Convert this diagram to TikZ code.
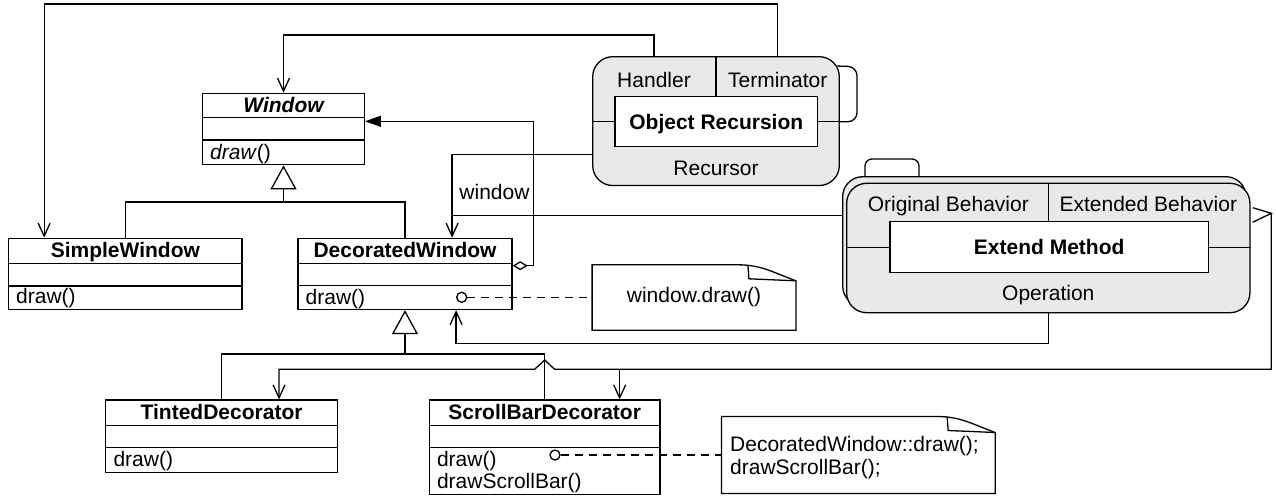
\documentclass[tikz,border=0pt]{standalone}
\usepackage{fontspec}
\setmainfont{Liberation Sans}
\usetikzlibrary{arrows.meta,calc}
\definecolor{boxgray}{RGB}{233,233,233}
\newcommand\notedraw[1]{%
  \draw[ln] (#1.south west) |- ($(#1.north east)+(-58,0)$) to[out=0,in=160] ($(#1.north east)+(0,16)$) -- (#1.south east) -- cycle;
  \draw[ln] ($(#1.north east)+(-48,0)$) -- ($(#1.north east)+(-47,14)$) -- ($(#1.north east)+(0,16)$);}
\begin{document}
\begin{tikzpicture}[x=1pt,y=-1pt,
  every node/.style={font=\fontsize{21}{24}\selectfont, inner sep=0pt},
  ln/.style={line width=1.3pt},
  cls/.style={draw, line width=1.3pt, fill=white},
  rbox/.style={draw, line width=1.3pt, fill=boxgray, rounded corners=20pt},
  ibox/.style={draw, line width=1.3pt, fill=white, text height=15pt, text depth=0pt, font=\fontsize{21}{24}\selectfont\bfseries},
  txt/.style={anchor=base},
  bold/.style={anchor=base, font=\fontsize{21}{24}\selectfont\bfseries},
  op/.style={anchor=base west},
  nav/.style={ln, -{Straight Barb[length=13pt,width=12pt]}},
  inh/.style={ln, -{Triangle[open,length=24pt,width=26pt]}},
  dsh/.style={ln, dash pattern=on 8pt off 6pt},
  lolly/.style={circle, draw, line width=1.3pt, fill=white, minimum size=10pt}
]
\useasboundingbox (0,0) rectangle (1276,496);

% ---------- classes ----------
\node[cls, minimum width=161.6pt, minimum height=71.4pt] (win) at (283.5,129) {};
\draw[ln] (win.west |- 0,117.7) -- (win.east |- 0,117.7);
\draw[ln] (win.west |- 0,140) -- (win.east |- 0,140);
\node[anchor=base, font=\fontsize{21}{24}\selectfont\bfseries\itshape] (winn) at (283.5,112) {Window};
\node[op] (wino) at (210,159) {\textit{draw}()};

\node[cls, minimum width=233.5pt, minimum height=71.2pt] (sw) at (125.35,273.9) {};
\draw[ln] (sw.west |- 0,263.5) -- (sw.east |- 0,263.5);
\draw[ln] (sw.west |- 0,286) -- (sw.east |- 0,286);
\node[bold] (swn) at (125.35,257.5) {SimpleWindow};
\node[op] (swo) at (16,303.5) {draw()};

\node[cls, minimum width=214.1pt, minimum height=71.2pt] (dw) at (405,273.9) {};
\draw[ln] (dw.west |- 0,263.8) -- (dw.east |- 0,263.8);
\draw[ln] (dw.west |- 0,285.8) -- (dw.east |- 0,285.8);
\node[bold] (dwn) at (405,257.5) {DecoratedWindow};
\node[op] (dwo) at (305.5,304) {draw()};

\node[cls, minimum width=231.8pt, minimum height=72.5pt] (td) at (221.6,436.25) {};
\draw[ln] (td.west |- 0,425.3) -- (td.east |- 0,425.3);
\draw[ln] (td.west |- 0,447.3) -- (td.east |- 0,447.3);
\node[bold] (tdn) at (221.6,419.5) {TintedDecorator};
\node[op] (tdo) at (113.3,466.5) {draw()};

\node[cls, minimum width=230.7pt, minimum height=94.5pt] (sb) at (544.65,447.25) {};
\draw[ln] (sb.west |- 0,425.3) -- (sb.east |- 0,425.3);
\draw[ln] (sb.west |- 0,447.3) -- (sb.east |- 0,447.3);
\node[bold] (sbn) at (544.65,419.5) {ScrollBarDecorator};
\node[op] (sbo1) at (436.8,466.5) {draw()};
\node[op] (sbo2) at (436.8,488.5) {drawScrollBar()};

% ---------- Recursor ----------
\node[rbox, minimum width=246.6pt, minimum height=128.8pt] (rec) at (716,121.1) {};
\node[ibox, minimum width=202.7pt, minimum height=50pt] (objrec) at (716.3,121.7) {Object Recursion};
\draw[ln] (rec.north) -- (objrec.north -| rec.north);
\draw[ln] (rec.west |- objrec.west) -- (objrec.west);
\draw[ln] (objrec.east) -- (rec.east |- objrec.east);
\node[txt] (handt) at (654,87) {Handler};
\node[txt] (termt) at (777.7,87) {Terminator};
\node[txt] (rect) at (716,175) {Recursor};
\draw[ln, rounded corners=9pt] ($(rec.north east)+(-2.7,10)$) -- (857,66.7) -- (857,121.7) -- (rec.east |- objrec.east);

% ---------- Operation ----------
\draw[ln, rounded corners=7pt] (865,176.7) -- (865,159) -- (919,159) -- (919,176.7);
\node[rbox, minimum width=403.3pt, minimum height=129.4pt] (opb) at (1044.3,241.4) {};
\node[rbox, minimum width=403.3pt, minimum height=129.4pt] (op) at (1048.3,248) {};
\node[ibox, minimum width=318.3pt, minimum height=51pt] (em) at (1049.2,247.2) {Extend Method};
\draw[ln] (op.north) -- (em.north -| op.north);
\draw[ln] (op.west |- em.west) -- (em.west);
\draw[ln] (em.east) -- (op.east |- em.east);
\node[txt] (origt) at (948.3,211.7) {Original Behavior};
\node[txt] (extt) at (1148.3,211.7) {Extended Behavior};
\node[txt] (opt) at (1048.3,300) {Operation};

% ---------- notes ----------
\node[minimum width=203.4pt, minimum height=65pt] (note1) at (694,297.5) {};
\notedraw{note1}
\node (note1t) at (694,297.5) {window.draw()};
\node[minimum width=273.3pt, minimum height=76.6pt] (note2) at (858.3,455) {};
\notedraw{note2}
\node[op] (n2a) at (730,451) {DecoratedWindow::draw();};
\node[op] (n2b) at (730,474) {drawScrollBar();};

\node[lolly] (lp1) at (461.7,297.3) {};
\draw[dsh] (lp1) -- (note1.west |- lp1);
\node[lolly] (lp2) at (555,455) {};
\draw[dsh] (lp2) -- (note2.west |- lp2);

% ---------- connectors ----------
\draw[nav] (handt |- rec.north) -- ++(0,-21) -| (win.north);
\draw[nav] (termt |- rec.north) -- ++(0,-52) -| ($(sw.north west)+(36.2,0)$);

\coordinate (dwin) at ($(dw.north west)+(154.8,0)$);
\draw[nav] (rec.west |- 0,154.3) -| (dwin);
\coordinate (jn) at (dwin |- 0,215.3);
\draw[ln] (opb.west |- jn) -- (jn);
\node[txt] (wlab) at (494.5,199) {window};

\draw[ln, {Diamond[open,length=15pt,width=9pt]}-{Triangle[length=16pt,width=11pt]}]
  (dw.east |- 0,265.7) -| (533.3,121.3) -- (win.east |- 0,121.3);

\coordinate (dwop) at ($(dw.south west)+(158.8,0)$);
\draw[nav] (op.south) -- ++(0,29.8) -| (dwop);

\coordinate (ebtip) at ($(op.east |- 0,213.3)+(20.7,0)$);
\draw[ln] ($(op.east |- 0,207.7)+(2,0)$) -- (ebtip) -- ($(op.east |- 0,222.3)+(2,0)$);
\coordinate (tdin) at ($(td.north west)+(174,0)$);
\coordinate (sbin) at ($(sb.north west)+(191,0)$);
\coordinate (hop) at (sb.north |- 0,369.3);
\draw[nav] (ebtip) |- ($(hop)+(10,0)$) -- ($(hop)+(0,-9.3)$) -- ($(hop)+(-10,0)$) -| (tdin);
\draw[nav] (sbin |- hop) -- (sbin);

\coordinate (g1) at (win.south |- 0,202);
\draw[inh] (g1) -- (win.south);
\draw[ln] (sw.north) |- (g1) -| (dw.north);
\coordinate (g2) at (dw.south |- 0,354);
\draw[inh] (g2) -- (dw.south);
\draw[ln] (td.north) |- (g2) -| (sb.north);
\end{tikzpicture}
\end{document}
